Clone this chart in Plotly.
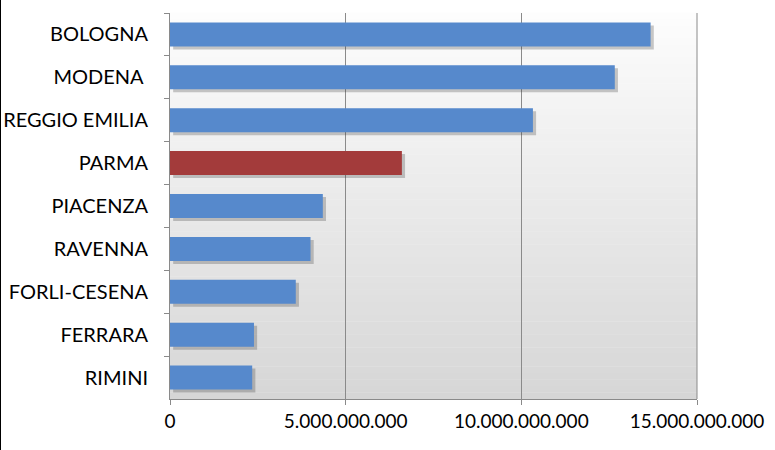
import plotly.graph_objects as go

provinces = ["BOLOGNA", "MODENA\u00a0", "REGGIO EMILIA", "PARMA", "PIACENZA",
             "RAVENNA", "FORLI-CESENA", "FERRARA", "RIMINI"]
values = [13.68e9, 12.66e9, 10.33e9, 6.60e9, 4.35e9, 4.00e9, 3.58e9, 2.39e9, 2.34e9]
highlight = "PARMA"
x_ticks = [0, 5e9, 10e9, 15e9]

blue = "#5689CC"
red = "#A33B3B"
colors = [red if p == highlight else blue for p in provinces]

W, H = 775, 450
ML, MR, MT, MB = 170, 78, 13, 51
plot_w = W - ML - MR

fig = go.Figure()

# soft drop shadow
fig.add_trace(go.Bar(
    y=provinces, x=values, orientation="h", base=0.09e9,
    width=0.56, offset=-0.28 + 0.07,
    marker=dict(color="rgba(60,60,60,0.28)", line=dict(width=0)),
    hoverinfo="skip", showlegend=False))
fig.add_trace(go.Bar(
    y=provinces, x=values, orientation="h",
    width=0.56, offset=-0.28,
    marker=dict(color=colors, line=dict(width=0)),
    showlegend=False))

# gradient background for the plot area
shapes = []
n = 60
top = (253, 253, 253)
bot = (214, 214, 214)
for i in range(n):
    t = (i + 0.5) / n
    c = tuple(int(round(top[k] + (bot[k] - top[k]) * t)) for k in range(3))
    shapes.append(dict(type="rect", xref="x domain", yref="y domain",
                       x0=0, x1=1, y0=1 - (i + 1) / n, y1=1 - i / n + 0.001,
                       fillcolor="rgb(%d,%d,%d)" % c, line=dict(width=0),
                       layer="below"))
shapes.append(dict(type="line", xref="x domain", yref="y domain",
                   x0=1, x1=1, y0=0, y1=1, line=dict(color="#8a8a8a", width=1)))
edge = -ML / plot_w
shapes.append(dict(type="line", xref="paper", yref="paper",
                   x0=edge, x1=edge, y0=-MB / (H - MT - MB), y1=1 + MT / (H - MT - MB),
                   line=dict(color="black", width=2)))

fig.update_layout(
    width=W, height=H,
    margin=dict(l=ML, r=MR, t=MT, b=MB),
    paper_bgcolor="white", plot_bgcolor="white",
    separators=",.",
    barmode="overlay",
    shapes=shapes,
    font=dict(family="Lato", size=20, color="black"),
    xaxis=dict(range=[0, 15e9], tickvals=x_ticks, tickformat=",d",
               showgrid=True, gridcolor="#8a8a8a", gridwidth=1,
               zeroline=False, showline=True, linecolor="#8a8a8a",
               ticks="outside", ticklen=5, tickcolor="#8a8a8a",
               tickfont=dict(size=19), automargin=False, fixedrange=True),
    yaxis=dict(categoryorder="array", categoryarray=provinces,
               autorange="reversed", showgrid=False, zeroline=False,
               showline=True, linecolor="#8a8a8a",
               ticks="outside", ticklen=5, tickcolor="#8a8a8a",
               tickson="boundaries", ticklabelstandoff=17,
               tickfont=dict(size=20), automargin=False, fixedrange=True),
)

fig.write_html("out.html")
